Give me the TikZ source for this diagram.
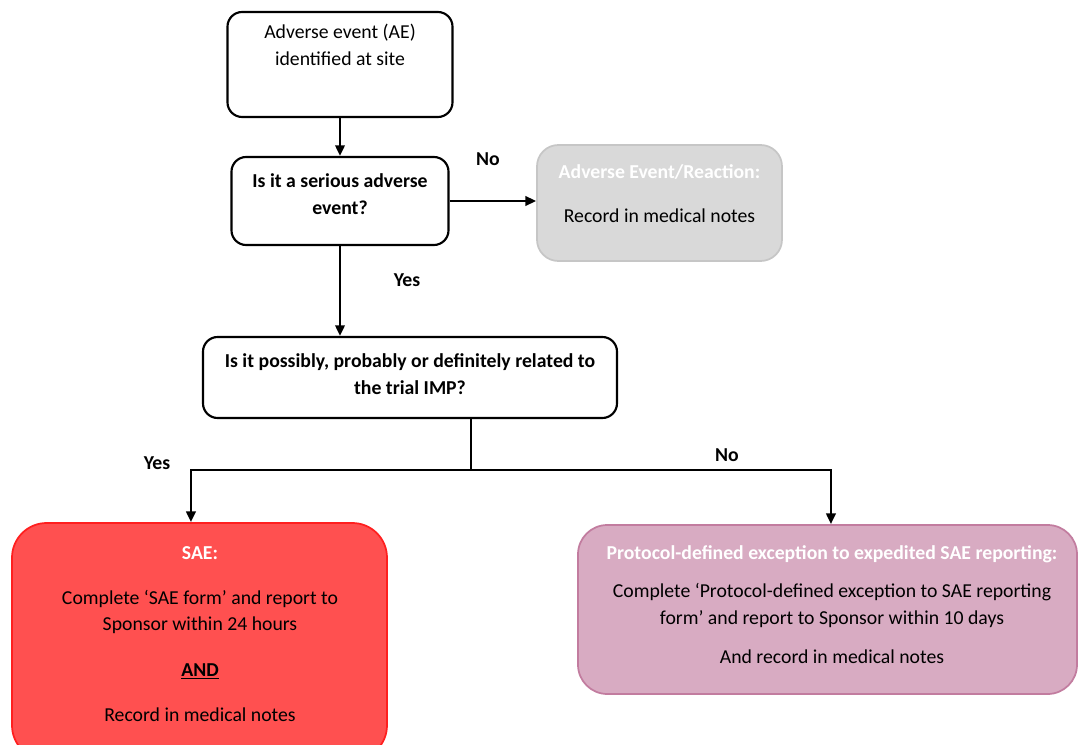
\documentclass[tikz,border=0pt]{standalone}
\usepackage{fontspec}
\setmainfont{Carlito}
\usepackage{tikz}
\usetikzlibrary{arrows.meta}
\definecolor{AEGrey}{HTML}{D9D9D9}
\definecolor{AEGreyLine}{HTML}{C6C6C6}
\definecolor{SAERed}{HTML}{FF5050}
\definecolor{SAERedLine}{HTML}{FF1F1F}
\definecolor{PDMauve}{HTML}{D8ABC2}
\definecolor{PDMauveLine}{HTML}{C27C9F}

\begin{document}
\begin{tikzpicture}[x=0.75pt,y=-0.75pt,
  box/.style={draw=black,line width=1.6pt,rounded corners=11pt,inner sep=0pt},
  txt/.style={align=center,font=\fontsize{14.8}{20.2}\selectfont},
  qtxt/.style={txt,font=\fontsize{14.8}{20.2}\selectfont\bfseries},
  ttl/.style={txt,text=white,font=\fontsize{14.8}{20.2}\selectfont\bfseries},
  lbl/.style={font=\fontsize{14.8}{16}\selectfont\bfseries},
  arrow/.style={line width=2.2pt,-{Triangle[length=8pt,width=7pt]}},
  joint/.style={line width=2.2pt}]
\path[use as bounding box] (0,0) rectangle (1079,745);
\clip (0,0) rectangle (1079,745);
\fill[white] (0,0) rectangle (1079,745);
\node[box,minimum width=168.75pt,minimum height=78.75pt] (ae) at (340,64.5) {};
\node[txt] (aetext) at (340,44.5) {Adverse event (AE)\\identified at site};
\node[box,minimum width=162.75pt,minimum height=66pt] (serious) at (340,201) {};
\node[qtxt] (serioustext) at (340,194.5) {Is it a serious adverse\\event?};
\node[box,draw=AEGreyLine,fill=AEGrey,line width=1.3pt,rounded corners=16pt,minimum width=183.75pt,minimum height=87pt] (aer) at (659.5,203) {};
\node[ttl] (aertitle) at (659.5,172) {Adverse Event/Reaction:};
\node[txt] (aertext) at (659.5,216) {Record in medical notes};
\node[box,minimum width=310.5pt,minimum height=60.75pt] (related) at (410,377.5) {};
\node[qtxt] (relatedtext) at (410,374.5) {Is it possibly, probably or definitely related to\\the trial IMP?};
\node[box,draw=SAERedLine,fill=SAERed,line width=1.3pt,rounded corners=26pt,minimum width=281.25pt,minimum height=177.75pt] (sae) at (199.5,641.5) {};
\node[ttl] (saetitle) at (200,553) {SAE:};
\node[txt] (saetext) at (200,612) {Complete `SAE form' and report to\\Sponsor within 24 hours};
\node[qtxt] (saeand) at (200,671) {\underline{AND}};
\node[txt] (saenotes) at (200,715) {Record in medical notes};
\node[box,draw=PDMauveLine,fill=PDMauve,line width=1.3pt,rounded corners=22pt,minimum width=374.25pt,minimum height=126.75pt] (pde) at (827.5,609.5) {};
\node[ttl] (pdetitle) at (832,554) {Protocol-defined exception to expedited SAE reporting:};
\node[txt] (pdetext) at (832,605.5) {Complete `Protocol-defined exception to SAE reporting\\form' and report to Sponsor within 10 days};
\node[txt] (pdenotes) at (832,657) {And record in medical notes};
\coordinate (split) at (471,470);
\draw[arrow] (ae) -- (serious);
\draw[arrow] (serious.east) -- (serious.east -| aer.west);
\draw[arrow] (serious.south) -- (serious.south |- related.north);
\draw[joint] (split |- related.south) -- (split);
\draw[arrow] (split) -| ([xshift=-6.4pt]sae.north);
\draw[arrow] (split) -| ([xshift=2.6pt]pde.north);
\node[lbl] (nolabel1) at (488,159) {No};
\node[lbl] (yeslabel1) at (407,280) {Yes};
\node[lbl] (yeslabel2) at (157,463) {Yes};
\node[lbl] (nolabel2) at (727,455) {No};
\end{tikzpicture}
\end{document}
